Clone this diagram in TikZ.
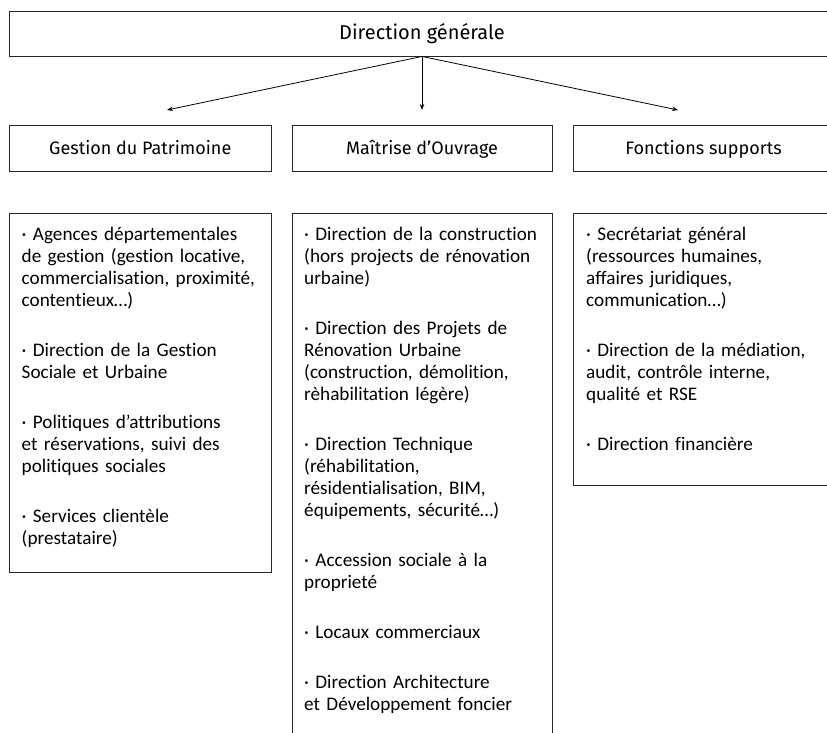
\documentclass[tikz,border=0pt]{standalone}
\usepackage{fontspec}
\setmainfont{Carlito}[Ligatures={NoCommon,NoContextual}]
\newfontfamily\headfont{Fira Sans}
\usetikzlibrary{arrows.meta}
\begin{document}
\begin{tikzpicture}[x=1pt,y=-1pt,
  box/.style={draw=black!85, line width=0.9pt, inner sep=0pt},
  toph/.style={font=\headfont\fontsize{20}{22}\selectfont, text height=13pt, text depth=0pt},
  head/.style={font=\headfont\fontsize{18}{22}\selectfont, text height=12pt, text depth=0pt},
  body/.style={font=\fontsize{19.2}{22}\selectfont, align=left, text width=250pt, inner sep=0pt, anchor=north west},
  conn/.style={-{Stealth[length=6pt,width=4.5pt]}, line width=0.8pt}
]
\useasboundingbox (0,0) rectangle (827,733);
\clip (0,0) rectangle (827,733);
\fill[white] (0,0) rectangle (827,733);

\node[box, minimum width=826pt, minimum height=45pt, toph] (dg) at (422,33.5) {Direction générale};

\node[box, minimum width=261.5pt, minimum height=46pt, head] (gp) at (140.25,148) {Gestion du Patrimoine};
\node[box, minimum width=260pt, minimum height=46pt, head] (mo) at (422,148) {Maîtrise d’Ouvrage};
\node[box, minimum width=260pt, minimum height=46pt, head] (fs) at (703.5,148) {Fonctions supports};

\coordinate (a1) at (167,110);
\coordinate (a2) at (422,110);
\coordinate (a3) at (678,110);
\draw[conn] (dg.south) -- (a1);
\draw[conn] (dg.south) -- (a2);
\draw[conn] (dg.south) -- (a3);

\node[box, minimum width=261.5pt, minimum height=359pt] (gpc) at (140.25,392.5) {};
\node[box, minimum width=260pt, minimum height=547pt] (moc) at (422,486.5) {};
\node[box, minimum width=260pt, minimum height=272pt] (fsc) at (703.75,349) {};

\node[body] (gpt) at (21.5,227) {·~Agences départementales\\
de gestion (gestion locative,\\
commercialisation, proximité,\\
contentieux…)\\[28pt]
·~Direction de la Gestion\\
Sociale et Urbaine\\[28pt]
·~Politiques d’attributions\\
et réservations, suivi des\\
politiques sociales\\[28pt]
·~Services clientèle\\
(prestataire)};

\node[body] (mot) at (304,227) {·~Direction de la construction\\
(hors projects de rénovation\\
urbaine)\\[28pt]
·~Direction des Projets de\\
Rénovation Urbaine\\
(construction, démolition,\\
rèhabilitation légère)\\[28pt]
·~Direction Technique\\
(réhabilitation,\\
résidentialisation, BIM,\\
équipements, sécurité…)\\[28pt]
·~Accession sociale à la\\
proprieté\\[28pt]
·~Locaux commerciaux\\[28pt]
·~Direction Architecture\\
et Développement foncier};

\node[body] (fst) at (586,227) {·~Secrétariat général\\
(ressources humaines,\\
affaires juridiques,\\
communication…)\\[28pt]
·~Direction de la médiation,\\
audit, contrôle interne,\\
qualité et RSE\\[28pt]
·~Direction financière};
\end{tikzpicture}
\end{document}
